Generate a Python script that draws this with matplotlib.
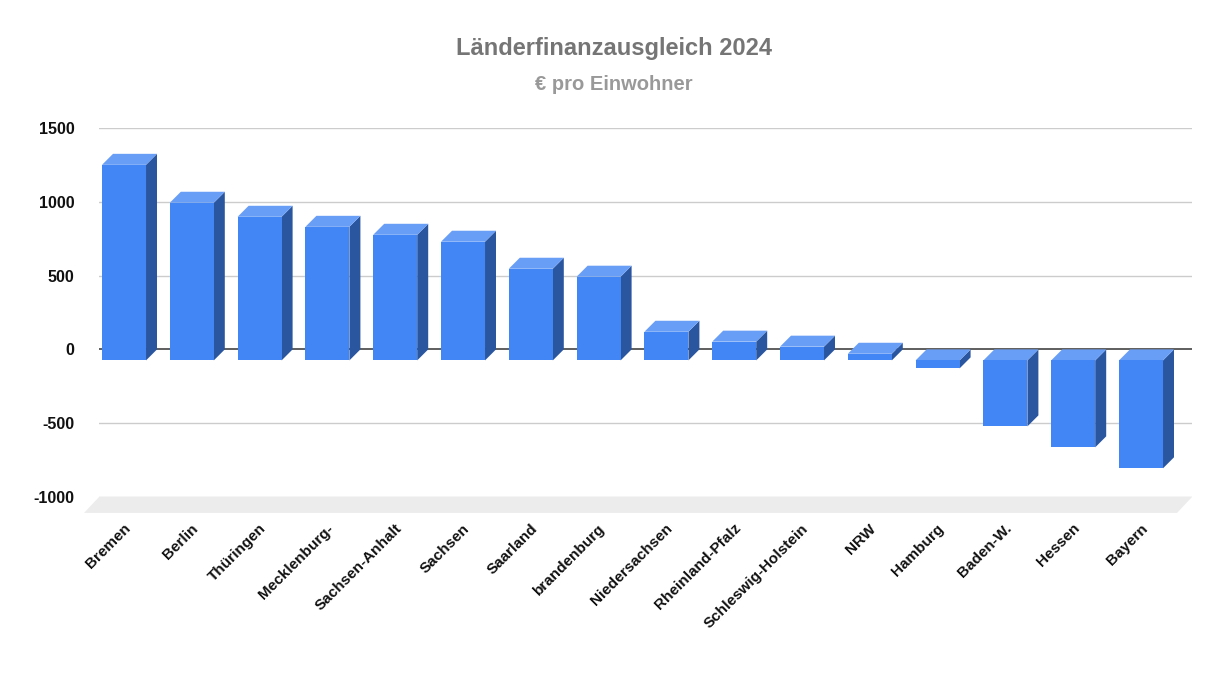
"""
Länderfinanzausgleich 2024 – € pro Einwohner
Pseudo-3D Säulendiagramm (Google-Sheets-Stil) mit matplotlib nachgebaut.
"""
import matplotlib
matplotlib.use('Agg')
import matplotlib.pyplot as plt
from matplotlib.patches import Polygon, Rectangle

matplotlib.rcParams['font.family'] = ['Liberation Sans', 'DejaVu Sans']

# Daten
laender = ['Bremen', 'Berlin', 'Thüringen', 'Mecklenburg-', 'Sachsen-Anhalt',
           'Sachsen', 'Saarland', 'brandenburg', 'Niedersachsen',
           'Rheinland-Pfalz', 'Schleswig-Holstein', 'NRW', 'Hamburg',
           'Baden-W.', 'Hessen', 'Bayern']
euro_pro_kopf = [1325, 1068, 973, 905, 851, 804, 621, 567, 194, 127, 93, 45,
                 -54, -447, -589, -731]
y_ticks = [-1000, -500, 0, 500, 1000, 1500]

# Farben
FRONT = '#4285f4'
TOP = '#699ef6'
SIDE = '#2a56a0'
FLOOR = '#ececec'
GRID = '#cccccc'

# 3D-Tiefe in Dateneinheiten (~11 px bei Bars, ~15 px beim Boden)
DX, DY = 0.162, 74.5
FDX, FDY = 0.221, 108
W = 0.649


def bar3d(ax, x, v):
    """eine Säule: Front, Deckel, Seite"""
    x0, x1 = x - W / 2, x + W / 2
    top = max(v, 0)
    bot = min(v, 0)
    # Seite
    ax.add_patch(Polygon([(x1 - DX, top - DY), (x1, top), (x1, bot), (x1 - DX, bot - DY)],
                         closed=True, fc=SIDE, ec='none', zorder=3, clip_on=False))
    # Deckel
    ax.add_patch(Polygon([(x0 - DX, top - DY), (x1 - DX, top - DY), (x1, top), (x0, top)],
                         closed=True, fc=TOP, ec='none', zorder=3, clip_on=False))
    # Front
    ax.add_patch(Rectangle((x0 - DX, bot - DY), W, top - bot, fc=FRONT, ec='none',
                           zorder=4, clip_on=False))


def main():
    fig = plt.figure(figsize=(12.27, 6.90), dpi=100)
    ax = fig.add_axes([99 / 1227, 1 - 497 / 690, (1192 - 99) / 1227, (497 - 128) / 690])
    xmin, xmax = -0.531, 15.59
    ax.set_xlim(xmin, xmax)
    ax.set_ylim(-1000, 1500)

    # Boden
    ax.add_patch(Polygon([(xmin, -1000), (xmax, -1000), (xmax - FDX, -1000 - FDY),
                          (xmin - FDX, -1000 - FDY)], closed=True, fc=FLOOR, ec='none',
                         zorder=1, clip_on=False))
    # Gitterlinien
    for t in y_ticks:
        if t == 0:
            continue
        ax.axhline(t, color=GRID, lw=1, zorder=2)
    ax.axhline(0, color='#333333', lw=1.1, zorder=2)

    for i, v in enumerate(euro_pro_kopf):
        bar3d(ax, i, v)

    for s in ax.spines.values():
        s.set_visible(False)
    ax.set_yticks(y_ticks)
    ax.set_yticklabels([str(t) for t in y_ticks], fontsize=11.5, fontweight='bold',
                       color='#111111')
    ax.tick_params(axis='y', length=0, pad=17.5)
    ax.set_xticks([i - 0.1 for i in range(len(laender))])
    ax.set_xticklabels(laender, rotation=45, ha='right', va='center',
                       rotation_mode='anchor', fontsize=11, fontweight='bold',
                       color='#111111')
    ax.tick_params(axis='x', length=0, pad=21)

    fig.text(0.5, 1 - 49 / 690, 'Länderfinanzausgleich 2024', ha='center', va='center',
             fontsize=17, fontweight='bold', color='#757575')
    fig.text(0.5, 1 - 85 / 690, '€ pro Einwohner', ha='center', va='center',
             fontsize=14.5, fontweight='bold', color='#999999')

    fig.savefig('out.png', dpi=100)
    plt.close(fig)


if __name__ == '__main__':
    main()
